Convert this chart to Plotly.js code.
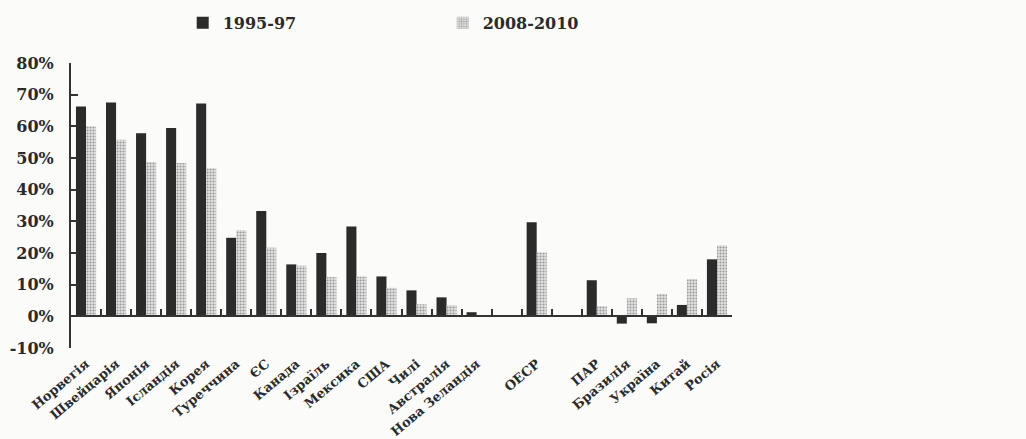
<!DOCTYPE html>
<html>
<head>
<meta charset="utf-8">
<script src="https://cdn.plot.ly/plotly-3.0.1.min.js"></script>
<style>
  html, body { margin: 0; padding: 0; background: #fbfbfa; }
  #chart { width: 1026px; height: 439px; }
</style>
</head>
<body>
<div id="chart"></div>
<script>
// Categories (blank entries are the empty slots on the axis)
const categories = ['Норвегія','Швейцарія','Японія','Ісландія','Корея','Туреччина','ЄС','Канада','Ізраїль','Мексика','США','Чилі','Австралія','Нова Зеландія','\u2002','ОЕСР','\u2003','ПАР','Бразилія','Україна','Китай','Росія'];

// Series values (%)
const series1995 = [66.3, 67.5, 57.8, 59.5, 67.2, 24.8, 33.3, 16.4, 20.0, 28.4, 12.6, 8.2, 6.0, 1.3, null, 29.7, null, 11.4, -2.3, -2.2, 3.6, 18.0];
const series2008 = [60.0, 55.8, 48.7, 48.4, 46.8, 27.2, 21.7, 16.0, 12.4, 12.6, 9.0, 3.8, 3.5, 0.4, null, 20.2, null, 3.2, 5.7, 7.1, 11.8, 22.4];

const seriesNames = ['1995-97', '2008-2010'];

// Y tick labels
const yTickVals = [-10, 0, 10, 20, 30, 40, 50, 60, 70, 80];
const yTickText = ['-10%', '0%', '10%', '20%', '30%', '40%', '50%', '60%', '70%', '80%'];

const FONT = 'DejaVu Serif';
const INK = '#2a2a2a';

const traces = [
  {
    type: 'bar', name: seriesNames[0], x: categories, y: series1995,
    marker: { color: '#2b2b2b', line: { width: 0 } }
  },
  {
    type: 'bar', name: seriesNames[1], x: categories, y: series2008,
    marker: {
      color: '#d6d6d6',
      line: { width: 0 },
      pattern: { shape: '.', fgcolor: '#9a9a9a', bgcolor: '#e2e2e2', size: 3, solidity: 0.4 }
    }
  }
];

const layout = {
  width: 1026, height: 439,
  paper_bgcolor: '#fbfbfa', plot_bgcolor: 'rgba(0,0,0,0)',
  margin: { l: 71, r: 294, t: 63, b: 91 },
  barmode: 'group', bargap: 0.33, bargroupgap: 0,
  font: { family: FONT, color: INK, size: 14, weight: 'bold' },
  showlegend: true,
  legend: {
    orientation: 'h', x: 0.169, xanchor: 'left',
    yref: 'container', y: 0.948, yanchor: 'middle',
    font: { family: FONT, size: 16, color: INK, weight: 'bold' },
    entrywidth: 215, entrywidthmode: 'pixels',
    bgcolor: 'rgba(0,0,0,0)', itemclick: false
  },
  xaxis: {
    type: 'category', categoryorder: 'array', categoryarray: categories,
    range: [-0.5, categories.length - 0.5],
    anchor: 'free', position: 10 / 90,
    showline: true, linecolor: '#333', linewidth: 2,
    ticks: 'inside', ticklen: 6, tickwidth: 2, tickcolor: '#333', tickson: 'boundaries',
    tickangle: -40, ticklabelstandoff: 34,
    tickfont: { family: FONT, size: 13, color: INK, weight: 'bold' },
    showgrid: false, zeroline: false, fixedrange: true
  },
  yaxis: {
    range: [-10, 80], tickvals: yTickVals, ticktext: yTickText,
    showline: true, linecolor: '#333', linewidth: 2,
    ticks: 'inside', ticklen: 7, tickwidth: 2, tickcolor: '#333',
    tickfont: { family: FONT, size: 16, color: INK, weight: 'bold' },
    ticklabelstandoff: 12,
    showgrid: false, zeroline: false, fixedrange: true
  }
};

Plotly.newPlot('chart', traces, layout, { staticPlot: true, displayModeBar: false });
</script>
</body>
</html>
